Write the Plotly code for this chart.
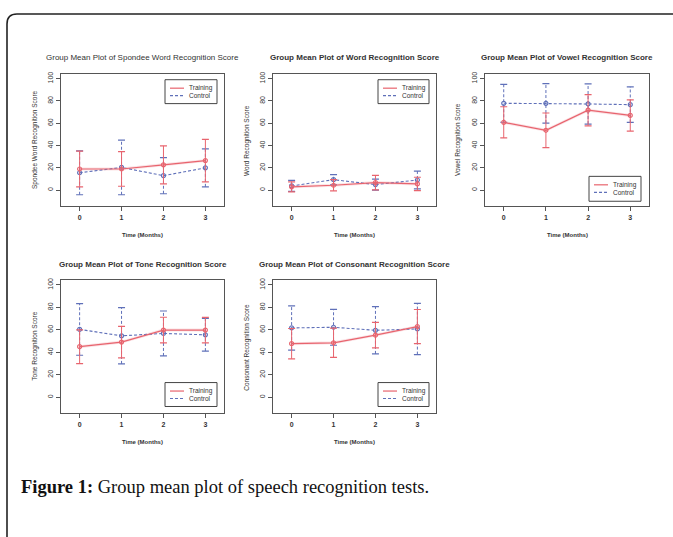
import plotly.graph_objects as go

W, H = 673, 537

months = [0, 1, 2, 3]
month_labels = ["0", "1", "2", "3"]
y_ticks = [0, 20, 40, 60, 80, 100]

titles = [
    "Group Mean Plot of Spondee Word Recognition Score",
    "Group Mean Plot of Word Recognition Score",
    "Group Mean Plot of Vowel Recognition Score",
    "Group Mean Plot of Tone Recognition Score",
    "Group Mean Plot of Consonant Recognition Score",
]
y_titles = [
    "Spondee Word Recognition Score",
    "Word Recognition Score",
    "Vowel Recognition Score",
    "Tone Recognition Score",
    "Consonant Recognition Score",
]

# Means and half-widths of error bars
spondee_train = [19, 19, 22.7, 26.5]
spondee_train_err = [16, 15.5, 17, 19]
spondee_ctrl = [15.6, 20.4, 13, 20]
spondee_ctrl_err = [19.7, 24.5, 16.2, 17]

word_train = [3, 4.4, 6.8, 5.6]
word_train_err = [4.5, 5, 6.5, 6]
word_ctrl = [3.8, 9.4, 5, 9.1]
word_ctrl_err = [4.9, 4.6, 4.9, 8]

vowel_train = [60.8, 53.7, 71.7, 67]
vowel_train_err = [14, 15.5, 14, 14]
vowel_ctrl = [77.9, 77.9, 77.3, 76.7]
vowel_ctrl_err = [17, 17.7, 18, 16]

tone_train = [45, 49.1, 59.8, 59.8]
tone_train_err = [15, 14, 11.4, 11.3]
tone_ctrl = [60.4, 54.7, 56.8, 55.6]
tone_ctrl_err = [23, 25, 20, 14.5]

cons_train = [47.7, 48.5, 55.3, 62.9]
cons_train_err = [13.5, 13, 11.3, 15.2]
cons_ctrl = [61.7, 62.3, 59.6, 60.8]
cons_ctrl_err = [19.7, 16, 21, 22.8]

panels = [
    (spondee_train, spondee_train_err, spondee_ctrl, spondee_ctrl_err),
    (word_train, word_train_err, word_ctrl, word_ctrl_err),
    (vowel_train, vowel_train_err, vowel_ctrl, vowel_ctrl_err),
    (tone_train, tone_train_err, tone_ctrl, tone_ctrl_err),
    (cons_train, cons_train_err, cons_ctrl, cons_ctrl_err),
]
series_names = ["Training", "Control"]

RED = "rgb(232,100,110)"
RED_HALO = "rgba(240,160,168,0.3)"
BLUE = "rgb(95,112,185)"
AXC = "#555555"
TXT = "#333333"
FONT = "Liberation Sans"


def px_x(p):
    return p / W


def px_y(p):
    return 1 - p / H


# panel boxes in pixels: (left, right, top, bottom)
boxes = [
    (61, 224, 72, 205),
    (273, 436, 72, 205),
    (485, 649, 72, 205),
    (61, 224, 279, 413),
    (273, 436, 279, 413),
]
legend_boxes = [
    (165, 217, 78, 102),
    (378, 429, 78, 102),
    (589, 641, 175, 200),
    (165, 217, 382, 406),
    (378, 429, 382, 406),
]
title_bold = [False, True, True, True, True]
ytitle_x = [35, 247, 458, 35, 247]

fig = go.Figure()
shapes = []
annotations = []

for i, (box, data) in enumerate(zip(boxes, panels)):
    n = i + 1
    xa = "x" if n == 1 else f"x{n}"
    ya = "y" if n == 1 else f"y{n}"
    tr, tre, ct, cte = data
    # soft halo under the training line
    fig.add_trace(go.Scatter(x=months, y=tr, mode="lines", xaxis=xa, yaxis=ya,
                             line=dict(color=RED_HALO, width=3),
                             showlegend=False, hoverinfo="skip"))
    for mean, err, col, dash in [(ct, cte, BLUE, "3px,2px"), (tr, tre, RED, "solid")]:
        # error bar stems
        ex, ey = [], []
        for t, m, e in zip(months, mean, err):
            ex += [t, t, None]
            ey += [m - e, m + e, None]
        fig.add_trace(go.Scatter(x=ex, y=ey, mode="lines", xaxis=xa, yaxis=ya,
                                 line=dict(color=col, width=1, dash=dash),
                                 showlegend=False, hoverinfo="skip"))
        # caps
        cx, cy = [], []
        for t, m, e in zip(months, mean, err):
            cx += [t, t]
            cy += [m - e, m + e]
        fig.add_trace(go.Scatter(x=cx, y=cy, mode="markers", xaxis=xa, yaxis=ya,
                                 marker=dict(symbol="line-ew", size=5,
                                             line=dict(color=col, width=1.2)),
                                 showlegend=False, hoverinfo="skip"))
        # mean line
        fig.add_trace(go.Scatter(x=months, y=mean, mode="lines+markers", xaxis=xa, yaxis=ya,
                                 line=dict(color=col, width=1.2 if dash == "solid" else 1.1,
                                           dash=dash),
                                 marker=dict(symbol="circle-open", size=4,
                                             line=dict(color=col, width=1.2)),
                                 showlegend=False))

    l, r, t, b = box
    axis_common = dict(showline=True, mirror=True, linecolor=AXC, linewidth=1,
                       ticks="outside", ticklen=4, tickcolor=AXC, tickwidth=1,
                       showgrid=False, zeroline=False)
    fig.layout[f"xaxis{'' if n == 1 else n}"] = dict(
        axis_common, domain=[px_x(l), px_x(r)], range=[-0.444, 3.444],
        tickvals=months, ticktext=month_labels, anchor=ya,
        tickfont=dict(family=FONT, size=7, color=TXT, weight="bold"))
    fig.layout[f"yaxis{'' if n == 1 else n}"] = dict(
        axis_common, domain=[px_y(b), px_y(t)], range=[-14.4, 104.4],
        tickvals=y_ticks, tickangle=-90, anchor=xa,
        tickfont=dict(family=FONT, size=7, color=TXT))

    cxp = (l + r) / 2
    annotations.append(dict(text=titles[i], x=px_x(cxp), y=px_y(t - 16), xref="paper", yref="paper",
                            showarrow=False, xanchor="center", yanchor="middle",
                            font=dict(family=FONT, size=8, color=TXT,
                                      weight="bold" if title_bold[i] else "normal")))
    annotations.append(dict(text="Time (Months)", x=px_x(cxp), y=px_y(b + 29), xref="paper", yref="paper",
                            showarrow=False, xanchor="center", yanchor="middle",
                            font=dict(family=FONT, size=6, color=TXT, weight="bold")))
    annotations.append(dict(text=y_titles[i], x=px_x(ytitle_x[i]), y=px_y((t + b) / 2),
                            xref="paper", yref="paper", textangle=-90,
                            showarrow=False, xanchor="center", yanchor="middle",
                            font=dict(family=FONT, size=6.5, color=TXT)))

    # legend
    ll, lr, lt, lb = legend_boxes[i]
    shapes.append(dict(type="rect", xref="paper", yref="paper",
                       x0=px_x(ll), x1=px_x(lr), y0=px_y(lb), y1=px_y(lt),
                       line=dict(color="#444444", width=1), fillcolor="white"))
    for k, (name, col, dash) in enumerate(zip(series_names, [RED, BLUE], ["solid", "dash"])):
        yy = lt + 8.5 + k * 7.5
        shapes.append(dict(type="line", xref="paper", yref="paper",
                           x0=px_x(ll + 5), x1=px_x(ll + 19), y0=px_y(yy), y1=px_y(yy),
                           line=dict(color=col, width=1.2,
                                     dash="3px,2px" if dash == "dash" else "solid")))
        annotations.append(dict(text=name, x=px_x(ll + 22), y=px_y(yy), xref="paper", yref="paper",
                                showarrow=False, xanchor="left", yanchor="middle",
                                font=dict(family=FONT, size=6.5, color=TXT)))

# outer frame with rounded top-left corner
path = (f"M {px_x(7)},{px_y(545)} L {px_x(7)},{px_y(22)} "
        f"Q {px_x(7)},{px_y(12)} {px_x(17)},{px_y(12)} L {px_x(680)},{px_y(12)}")
shapes.append(dict(type="path", xref="paper", yref="paper", path=path,
                   line=dict(color="#222222", width=1.6)))

annotations.append(dict(text="<b>Figure 1:</b> Group mean plot of speech recognition tests.",
                        x=px_x(19), y=px_y(487), xref="paper", yref="paper",
                        showarrow=False, xanchor="left", yanchor="middle",
                        font=dict(family="Liberation Serif", size=18.5, color="#111111")))

fig.update_layout(width=W, height=H, margin=dict(l=0, r=0, t=0, b=0),
                  paper_bgcolor="white", plot_bgcolor="white",
                  showlegend=False, shapes=shapes, annotations=annotations)

fig.write_html("out.html", config={"displayModeBar": False},
               post_script="document.body.style.margin='0';document.body.style.overflow='hidden';")
